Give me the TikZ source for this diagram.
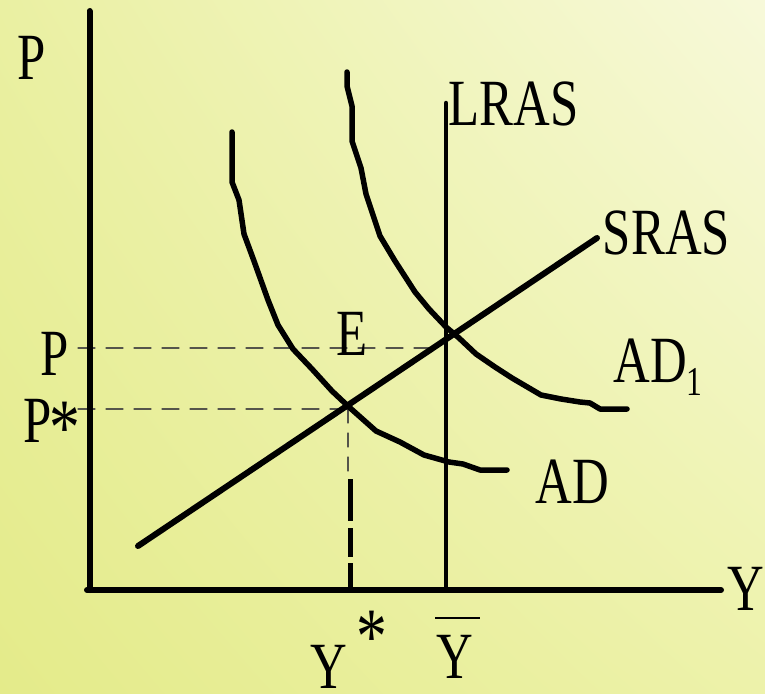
\documentclass[tikz,border=0pt]{standalone}
\usepackage{fontspec}
\usetikzlibrary{shadings}
\newfontfamily\lblfont{Liberation Serif}[FakeStretch=0.77]
\definecolor{bgUL}{RGB}{234,240,162}
\definecolor{bgLL}{RGB}{228,235,138}
\definecolor{bgUR}{RGB}{247,249,218}
\definecolor{bgLR}{RGB}{237,242,170}
\definecolor{guide}{RGB}{85,85,75}
\begin{document}
\begin{tikzpicture}[x=1pt,y=-1pt,
  lbl/.style={font=\lblfont\fontsize{66}{70}\selectfont, inner sep=0pt, anchor=base},
  sublbl/.style={font=\lblfont\fontsize{41}{44}\selectfont, inner sep=0pt, anchor=base},
  starlbl/.style={font=\lblfont\fontsize{80}{82}\selectfont, inner sep=0pt, anchor=north},
  axisline/.style={line width=6pt, line cap=round},
  curve/.style={line width=5.5pt, line cap=round, line join=round},
  guideline/.style={line width=1.3pt, guide, dash pattern=on 17pt off 11pt},
  line cap=round]
\useasboundingbox (0,0) rectangle (765,693);
\shade[upper left=bgUL, lower left=bgLL, upper right=bgUR, lower right=bgLR] (0,0) rectangle (765,693);

% guide lines
\draw[guideline] (78,348) -- (432,348);
\draw[guideline] (78,409) -- (348,409);
\draw[guideline, dash pattern=on 14pt off 10pt] (348,409) -- (348,476);
\draw[line width=5pt, line cap=butt, dash pattern=on 42pt off 7pt on 29pt off 6pt on 30pt off 4pt] (350,479) -- (350,590);

% axes
\draw[axisline] (89.5,11) -- (89.5,590);
\draw[axisline] (87,590) -- (721,590);

% LRAS
\draw[line width=4.5pt] (446,103) -- (446,590);

% SRAS
\draw[line width=6pt] (138,546) -- (597,238);

% AD
\draw[curve] plot coordinates {(232,132) (232,182) (239,200) (244,234) (254,261) (268,300) (278,325) (293,349) (312,369) (332,391) (349,407) (376,431) (400,442) (424,455) (449,462) (463,464) (480,470) (507,470)};

% AD1
\draw[curve] plot coordinates {(347,72) (347,86) (352,106) (352,141) (361,168) (366,194) (380,236) (395,261) (415,292) (429,309) (446,327) (459,338) (476,354) (495,367) (512,378) (541,395) (561,399) (580,402) (590,403) (600,409) (627,409)};

% labels
\node[lbl] (lP) at (31.5,79) {P};
\node[lbl] (lLRAS) at (513.5,125) {LRAS};
\node[lbl] (lSRAS) at (666.5,254) {SRAS};
\node[lbl] (lE) at (352.5,355) {E};
\node[lbl] (lAD1) at (650,382) {AD};
\node[sublbl] (lAD1s) at (694,395) {1};
\node[lbl] (lAD) at (572.5,503) {AD};
\node[lbl] (lPp) at (55,375) {P};
\node[lbl] (lPs) at (38,442) {P};
\node[starlbl] (lPsStar) at (65,402) {*};
\node[lbl] (lY) at (745.5,610) {Y};
\node[lbl] (lYs) at (329,688) {Y};
\node[starlbl] (lYsStar) at (372,611) {*};
\node[lbl] (lYbar) at (455,678) {Y};
\draw[line width=1.5pt, line cap=butt] (435,618) -- (480,618);
\end{tikzpicture}
\end{document}
